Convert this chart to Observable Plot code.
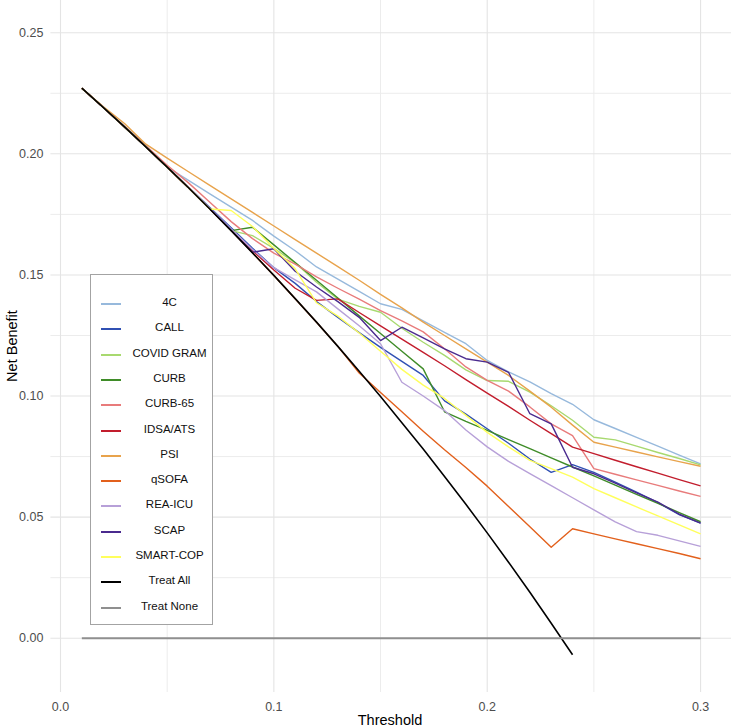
<!DOCTYPE html>
<html>
<head>
<meta charset="utf-8">
<script src="https://cdn.jsdelivr.net/npm/d3@7"></script>
<script src="https://cdn.jsdelivr.net/npm/@observablehq/plot@0.6"></script>
<style>
  html, body { margin: 0; padding: 0; background: #fff; }
  #wrap { position: relative; width: 731px; height: 728px; font-family: "Liberation Sans", Arial, sans-serif; }
  #wrap svg { position: absolute; left: 0; top: 0; }
  .ytitle { position: absolute; left: 12px; top: 346px; transform: translate(-50%, -50%) rotate(-90deg); font-size: 14.5px; color: #000; white-space: nowrap; }
  .xtitle { position: absolute; left: 390px; top: 720px; transform: translate(-50%, -50%); font-size: 14.5px; color: #000; white-space: nowrap; }
  .legend { position: absolute; left: 90px; top: 274px; width: 123px; height: 351px; border: 1.5px solid #a3a3a3; background: #fff; box-sizing: border-box; }
  .item { position: absolute; left: 0; width: 100%; height: 20px; }
  .key { position: absolute; left: 10px; top: 9px; width: 20px; height: 2px; }
  .lab { position: absolute; left: 30px; width: 97px; text-align: center; top: 2px; font-size: 11.5px; color: #111; white-space: nowrap; }
</style>
</head>
<body>
<div id="wrap"></div>
<script>
const thresholds = [0.01,0.02,0.03,0.04,0.05,0.06,0.07,0.08,0.09,0.10,0.11,0.12,0.13,0.14,0.15,0.16,0.17,0.18,0.19,0.20,0.21,0.22,0.23,0.24,0.25,0.26,0.27,0.28,0.29,0.30];

const nb4C       = [0.2271,0.2192,0.2115,0.2035,0.1945,0.1890,0.1835,0.1780,0.1725,0.1660,0.1600,0.1533,0.1483,0.1432,0.1381,0.1358,0.1310,0.1263,0.1216,0.1147,0.1100,0.1058,0.1010,0.0966,0.0902,0.0866,0.0829,0.0793,0.0756,0.0720];
const nbCALL     = [0.2271,0.2192,0.2111,0.2029,0.1945,0.1862,0.1778,0.1695,0.1610,0.1530,0.1465,0.1390,0.1325,0.1262,0.1201,0.1143,0.1085,0.0980,0.0925,0.0865,0.0805,0.0740,0.0685,0.0717,0.0685,0.0645,0.0603,0.0560,0.0510,0.0475];
const nbCOVID    = [0.2271,0.2192,0.2111,0.2029,0.1945,0.1860,0.1772,0.1683,0.1662,0.1610,0.1550,0.1470,0.1400,0.1370,0.1346,0.1280,0.1222,0.1168,0.1108,0.1064,0.1061,0.1016,0.0960,0.0900,0.0830,0.0819,0.0793,0.0767,0.0742,0.0716];
const nbCURB     = [0.2271,0.2192,0.2111,0.2029,0.1945,0.1860,0.1772,0.1683,0.1697,0.1624,0.1551,0.1478,0.1405,0.1331,0.1258,0.1185,0.1112,0.0935,0.0895,0.0858,0.0820,0.0783,0.0745,0.0707,0.0670,0.0632,0.0594,0.0557,0.0519,0.0481];
const nbCURB65   = [0.2271,0.2192,0.2113,0.2033,0.1953,0.1880,0.1800,0.1720,0.1650,0.1590,0.1545,0.1492,0.1445,0.1400,0.1353,0.1310,0.1265,0.1195,0.1120,0.1065,0.1020,0.0955,0.0885,0.0837,0.0700,0.0677,0.0654,0.0631,0.0608,0.0586];
const nbIDSA     = [0.2271,0.2192,0.2111,0.2029,0.1945,0.1860,0.1772,0.1685,0.1600,0.1520,0.1445,0.1395,0.1401,0.1345,0.1290,0.1235,0.1180,0.1125,0.1068,0.1012,0.0957,0.0900,0.0845,0.0789,0.0762,0.0735,0.0708,0.0682,0.0655,0.0629];
const nbPSI      = [0.2271,0.2195,0.2125,0.2040,0.1982,0.1926,0.1870,0.1814,0.1758,0.1702,0.1646,0.1590,0.1534,0.1478,0.1420,0.1364,0.1305,0.1250,0.1195,0.1140,0.1085,0.1020,0.0954,0.0880,0.0809,0.0789,0.0769,0.0749,0.0729,0.0710];
const nbQSOFA    = [0.2271,0.2192,0.2111,0.2029,0.1945,0.1860,0.1772,0.1683,0.1591,0.1498,0.1402,0.1305,0.1205,0.1095,0.1015,0.0935,0.0855,0.0778,0.0705,0.0628,0.0544,0.0460,0.0376,0.0452,0.0431,0.0410,0.0390,0.0370,0.0350,0.0328];
const nbREAICU   = [0.2271,0.2192,0.2111,0.2029,0.1945,0.1862,0.1776,0.1690,0.1605,0.1530,0.1480,0.1430,0.1360,0.1290,0.1216,0.1057,0.1000,0.0940,0.0860,0.0790,0.0730,0.0680,0.0630,0.0580,0.0530,0.0480,0.0440,0.0425,0.0402,0.0379];
const nbSCAP     = [0.2271,0.2192,0.2111,0.2029,0.1945,0.1860,0.1772,0.1683,0.1594,0.1608,0.1515,0.1450,0.1390,0.1325,0.1229,0.1284,0.1240,0.1195,0.1154,0.1140,0.1098,0.0927,0.0885,0.0706,0.0679,0.0640,0.0600,0.0562,0.0512,0.0475];
const nbSMARTCOP = [0.2271,0.2192,0.2111,0.2029,0.1945,0.1860,0.1772,0.1766,0.1700,0.1610,0.1525,0.1385,0.1330,0.1260,0.1185,0.1110,0.1045,0.0990,0.0920,0.0850,0.0790,0.0734,0.0700,0.0665,0.0618,0.0580,0.0542,0.0505,0.0468,0.0431];
const nbTreatAll = [0.2271,0.2192,0.2111,0.2029,0.1945,0.1860,0.1772,0.1683,0.1591,0.1498,0.1402,0.1305,0.1205,0.1102,0.0998,0.0890,0.0781,0.0668,0.0553,0.0435,0.0314,0.0190,0.0062,-0.0068];
const nbTreatNone = [0,0,0,0,0,0,0,0,0,0,0,0,0,0,0,0,0,0,0,0,0,0,0,0,0,0,0,0,0,0];

const seriesNames  = ["4C","CALL","COVID GRAM","CURB","CURB-65","IDSA/ATS","PSI","qSOFA","REA-ICU","SCAP","SMART-COP","Treat All","Treat None"];
const seriesValues = [nb4C,nbCALL,nbCOVID,nbCURB,nbCURB65,nbIDSA,nbPSI,nbQSOFA,nbREAICU,nbSCAP,nbSMARTCOP,nbTreatAll,nbTreatNone];
const seriesColors = ["#97b9dc","#3050b3","#a8d96f","#3f8c28","#e87b7b","#c21d2d","#e8a34c","#e2601c","#b7a0d8","#4a2a8e","#ffff5c","#000000","#8f8f8f"];
const seriesWidths = [1.4,1.4,1.4,1.4,1.4,1.4,1.4,1.4,1.4,1.4,1.4,1.6,2];

const xMajor = [0, 0.1, 0.2, 0.3];
const xMinor = [0.05, 0.15, 0.25];
const yMajor = [0, 0.05, 0.10, 0.15, 0.20, 0.25];
const yMinor = [0.025, 0.075, 0.125, 0.175, 0.225];

const rows = seriesNames.flatMap((name, i) =>
  seriesValues[i].map((v, j) => ({model: name, t: thresholds[j], nb: v})));

const lineMarks = seriesNames.map((name, i) =>
  Plot.line(rows.filter(d => d.model === name), {
    x: "t", y: "nb", stroke: "model", strokeWidth: seriesWidths[i],
    strokeLinejoin: "round", strokeLinecap: "butt"
  }));

const chart = Plot.plot({
  width: 731, height: 728,
  marginLeft: 50.4, marginRight: 0, marginTop: 0, marginBottom: 36,
  style: {fontFamily: "'Liberation Sans', Arial, sans-serif", background: "transparent"},
  x: {domain: [-0.0045, 0.3145]},
  y: {domain: [-0.0224, 0.2633]},
  color: {domain: seriesNames, range: seriesColors},
  marks: [
    Plot.gridX(xMinor, {stroke: "#ececec", strokeOpacity: 1, strokeWidth: 1}),
    Plot.gridY(yMinor, {stroke: "#ececec", strokeOpacity: 1, strokeWidth: 1}),
    Plot.gridX(xMajor, {stroke: "#e4e4e4", strokeOpacity: 1, strokeWidth: 1.1}),
    Plot.gridY(yMajor, {stroke: "#e4e4e4", strokeOpacity: 1, strokeWidth: 1.1}),
    Plot.axisX(xMajor, {tickSize: 0, tickPadding: 10, tickFormat: d => d.toFixed(1), fontSize: 12.5, fill: "#4d4d4d", label: null}),
    Plot.axisY(yMajor, {tickSize: 0, tickPadding: 7.5, tickFormat: d => d.toFixed(2), fontSize: 12.5, fill: "#4d4d4d", label: null}),
    ...lineMarks
  ]
});

const wrap = document.getElementById("wrap");
wrap.appendChild(chart);

const yt = document.createElement("div");
yt.className = "ytitle"; yt.textContent = "Net Benefit";
wrap.appendChild(yt);
const xt = document.createElement("div");
xt.className = "xtitle"; xt.textContent = "Threshold";
wrap.appendChild(xt);

const leg = document.createElement("div");
leg.className = "legend";
seriesNames.forEach((name, i) => {
  const it = document.createElement("div");
  it.className = "item";
  it.style.top = (19 + i * 25.3) + "px";
  const k = document.createElement("div");
  k.className = "key"; k.style.background = seriesColors[i];
  const l = document.createElement("div");
  l.className = "lab"; l.textContent = name;
  it.appendChild(k); it.appendChild(l);
  leg.appendChild(it);
});
wrap.appendChild(leg);
</script>
</body>
</html>
